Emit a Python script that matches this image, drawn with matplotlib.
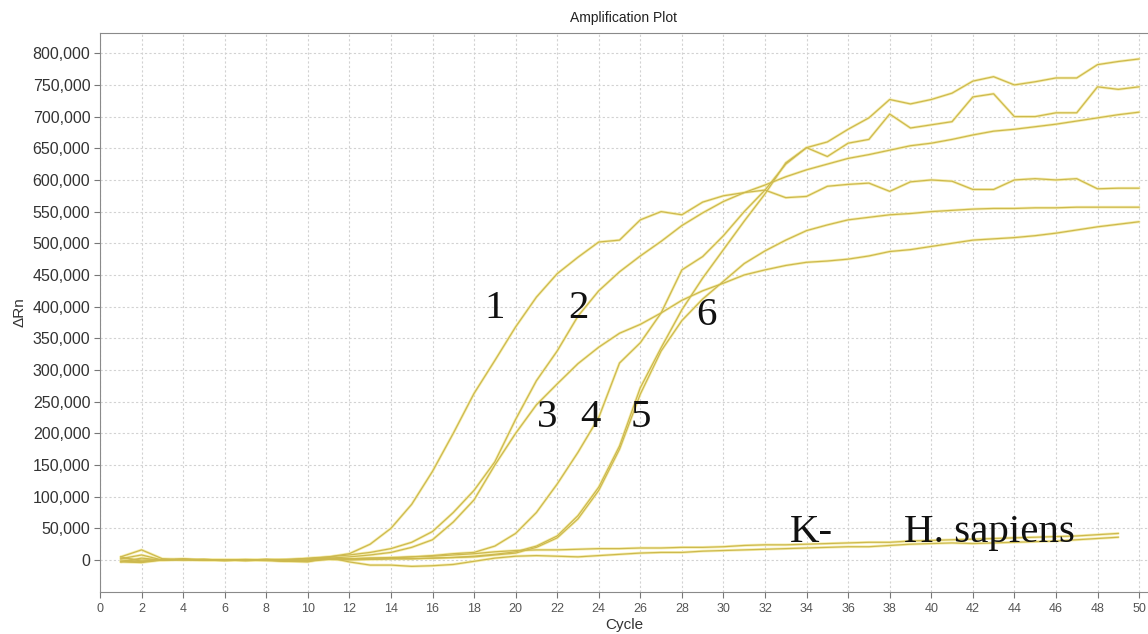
import numpy as np
import matplotlib
matplotlib.use("Agg")
import matplotlib.pyplot as plt
from matplotlib.ticker import FuncFormatter, MultipleLocator

plt.rcParams['font.family'] = ['Liberation Sans', 'DejaVu Sans']

cycles = np.arange(1, 51)

# Delta Rn per cycle, 6 samples + 2 controls
curve1 = [5e3, 16e3, 2e3, 1e3, 0, -1e3, 0, 1e3, 0, 3e3, 5e3, 10e3, 25e3, 50e3, 88e3,
          140e3, 200e3, 263e3, 315e3, 368e3, 415e3, 452e3, 478e3, 502e3, 505e3, 537e3,
          550e3, 545e3, 565e3, 575e3, 580e3, 584e3, 572e3, 574e3, 590e3, 593e3, 595e3,
          582e3, 597e3, 600e3, 598e3, 585e3, 585e3, 600e3, 602e3, 600e3, 602e3, 586e3,
          587e3, 587e3]
curve2 = [-3e3, 3e3, 0, 1e3, 1e3, 0, -1e3, 0, 1e3, 2e3, 5e3, 8e3, 12e3, 18e3, 28e3,
          45e3, 75e3, 110e3, 155e3, 222e3, 283e3, 330e3, 385e3, 425e3, 455e3, 480e3,
          503e3, 528e3, 548e3, 566e3, 580e3, 592e3, 605e3, 616e3, 625e3, 634e3, 640e3,
          647e3, 654e3, 658e3, 664e3, 671e3, 677e3, 680e3, 684e3, 688e3, 693e3, 698e3,
          703e3, 707e3]
curve3 = [2e3, 8e3, 0, 2e3, 0, 0, 0, -1e3, -2e3, 0, 3e3, 5e3, 8e3, 12e3, 20e3,
          32e3, 60e3, 95e3, 150e3, 200e3, 245e3, 278e3, 310e3, 336e3, 358e3, 372e3,
          390e3, 410e3, 425e3, 437e3, 450e3, 458e3, 465e3, 470e3, 472e3, 475e3, 480e3,
          487e3, 490e3, 495e3, 500e3, 505e3, 507e3, 509e3, 512e3, 516e3, 521e3, 526e3,
          530e3, 534e3]
curve4 = [0, -2e3, 0, 1e3, 0, -1e3, 0, 0, -2e3, -1e3, 2e3, 2e3, 3e3, 3e3, 5e3,
          7e3, 10e3, 12e3, 22e3, 42e3, 75e3, 120e3, 170e3, 225e3, 311e3, 343e3,
          390e3, 458e3, 479e3, 512e3, 550e3, 584e3, 625e3, 651e3, 660e3, 680e3, 698e3,
          727e3, 720e3, 727e3, 737e3, 756e3, 763e3, 750e3, 755e3, 761e3, 761e3, 782e3,
          787e3, 791e3]
curve5 = [3e3, 0, 1e3, 0, 1e3, 0, 0, 1e3, -1e3, 0, 1e3, 1e3, 1e3, 2e3, 2e3,
          3e3, 4e3, 6e3, 9e3, 13e3, 22e3, 38e3, 70e3, 115e3, 180e3, 272e3,
          335e3, 395e3, 445e3, 490e3, 535e3, 578e3, 627e3, 651e3, 637e3, 658e3, 664e3,
          704e3, 682e3, 687e3, 692e3, 731e3, 736e3, 700e3, 700e3, 706e3, 706e3, 747e3,
          743e3, 747e3]
curve6 = [-2e3, -3e3, 1e3, 0, 0, 0, 1e3, 0, -1e3, -2e3, 1e3, 0, 1e3, 2e3, 2e3,
          3e3, 4e3, 5e3, 8e3, 11e3, 20e3, 35e3, 65e3, 110e3, 175e3, 262e3,
          330e3, 378e3, 412e3, 440e3, 468e3, 488e3, 505e3, 520e3, 529e3, 537e3, 541e3,
          545e3, 547e3, 550e3, 552e3, 554e3, 555e3, 555e3, 556e3, 556e3, 557e3, 557e3,
          557e3, 557e3]
k_neg = [5e3, -2e3, 0, 1e3, 0, 0, 0, 1e3, 1e3, 2e3, 3e3, 2e3, 3e3, 4e3, 5e3,
         6e3, 8e3, 10e3, 13e3, 15e3, 16e3, 16e3, 17e3, 18e3, 18e3, 19e3,
         19e3, 20e3, 20e3, 21e3, 23e3, 24e3, 24e3, 25e3, 26e3, 27e3, 28e3,
         28e3, 30e3, 31e3, 32e3, 33e3, 34e3, 35e3, 36e3, 37e3, 38e3, 40e3,
         42e3, np.nan]
h_sapiens = [-3e3, -4e3, 0, 1e3, 1e3, 0, -1e3, 0, -2e3, -3e3, 4e3, -3e3, -8e3, -8e3, -10e3,
             -9e3, -7e3, -2e3, 3e3, 6e3, 7e3, 6e3, 5e3, 7e3, 9e3, 11e3,
             12e3, 12e3, 14e3, 15e3, 16e3, 17e3, 18e3, 19e3, 20e3, 21e3, 21e3,
             23e3, 25e3, 26e3, 27e3, 26e3, 27e3, 28e3, 29e3, 30e3, 32e3, 34e3,
             36e3, np.nan]

series = [curve1, curve2, curve3, curve4, curve5, curve6, k_neg, h_sapiens]

# label text, x (cycle), y (delta Rn baseline)
labels = ["1", "2", "3", "4", "5", "6", "K-", "H. sapiens"]
label_x = [19.0, 23.0, 21.5, 23.6, 26.0, 29.2, 33.2, 38.7]
label_y = [382e3, 382e3, 210e3, 210e3, 210e3, 371e3, 28e3, 28e3]

fig = plt.figure(figsize=(11.48, 6.34), dpi=100)
ax = fig.add_axes([100 / 1148, 1 - 591.7 / 634, 1048 / 1148, (591.7 - 33.3) / 634])

for s in series:
    ax.plot(cycles, s, color='#f6eeb0', lw=2.0, solid_capstyle='round', zorder=2)
for s in series:
    ax.plot(cycles, s, color='#cdb94e', lw=0.9, zorder=3)

for t, x, y in zip(labels, label_x, label_y):
    ax.text(x, y, t, family=['Liberation Serif', 'DejaVu Serif'], fontsize=29.5,
            ha='left' if len(t) > 1 else 'center', va='baseline', color='#111111', zorder=5)

ax.set_xlim(0, 50.43)
ax.set_ylim(-50000, 831500)
ax.xaxis.set_major_locator(MultipleLocator(2))
ax.set_yticks(np.arange(0, 800001, 50000))
ax.yaxis.set_major_formatter(FuncFormatter(lambda v, p: f"{int(v):,}"))
ax.tick_params(axis='y', labelsize=11.5, labelcolor='#333333', length=4, color='#777777', pad=3)
ax.tick_params(axis='x', labelsize=9, labelcolor='#555555', length=4, color='#777777', pad=4)

ax.grid(True, color='#d2d2d2', linestyle=(0, (2, 2)), linewidth=0.8)
ax.set_axisbelow(True)
for side in ['left', 'bottom', 'top']:
    ax.spines[side].set_color('#8a8a8a')
ax.spines['right'].set_visible(False)

ax.set_title('Amplification Plot', fontsize=10, color='#222222', pad=8)
ax.set_xlabel('Cycle', fontsize=11, color='#333333', labelpad=2)
ax.set_ylabel('ΔRn', fontsize=11, color='#333333', labelpad=4)

plt.savefig('out.png', dpi=100)
